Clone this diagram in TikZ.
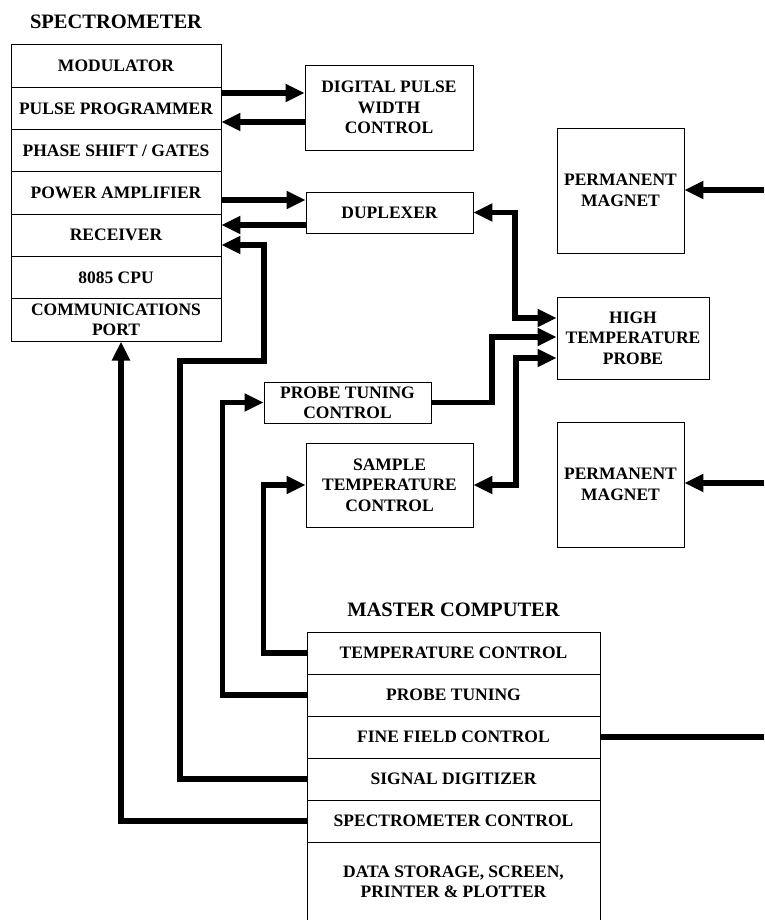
\documentclass[tikz,border=0pt]{standalone}
\usepackage{fontspec}
\setmainfont{Liberation Serif}
\usetikzlibrary{arrows.meta,calc}
\begin{document}
\begin{tikzpicture}[x=1pt,y=-1pt,
  box/.style={draw,line width=0.9pt,inner sep=0pt,align=center,font=\bfseries\fontsize{17.5}{20.5}\selectfont},
  scell/.style={box,minimum width=210pt,minimum height=42.3pt},
  mcell/.style={box,minimum width=293pt,minimum height=42pt,font=\bfseries\fontsize{17.5}{20}\selectfont},
  head/.style={inner sep=0pt,font=\bfseries\fontsize{20.5}{24}\selectfont},
  tipx/.tip={Triangle[length=19pt,width=17pt]},
  arr/.style={line width=5.5pt,-tipx},
  darr/.style={line width=5.5pt,tipx-tipx},
  wire/.style={line width=5.5pt}]
\useasboundingbox (0,0) rectangle (764,920);
\coordinate (edgeR) at (764,0);
% spectrometer
\node[head] (spech) at (116,22) {SPECTROMETER};
\node[scell] (mod) at (116,66.1) {MODULATOR};
\node[scell] (pp) at (116,108.4) {PULSE PROGRAMMER};
\node[scell] (ps) at (116,150.7) {PHASE SHIFT / GATES};
\node[scell] (pa) at (116,193.0) {POWER AMPLIFIER};
\node[scell] (rx) at (116,235.3) {RECEIVER};
\node[scell] (cpu) at (116,277.6) {8085 CPU};
\node[scell,font=\bfseries\fontsize{17.5}{19.5}\selectfont] (comm) at (116,319.9) {COMMUNICATIONS\\PORT};
% middle boxes
\node[box,minimum width=168pt,minimum height=85pt] (dpwc) at (389,107.5) {DIGITAL PULSE\\WIDTH\\CONTROL};
\node[box,minimum width=167pt,minimum height=41pt] (dup) at (389.5,212.5) {DUPLEXER};
\node[box,minimum width=167pt,minimum height=41pt,font=\bfseries\fontsize{17.5}{20}\selectfont] (ptc) at (347.5,402.5) {PROBE TUNING\\CONTROL};
\node[box,minimum width=167pt,minimum height=84pt] (stc) at (389.5,485) {SAMPLE\\TEMPERATURE\\CONTROL};
% right boxes
\node[box,minimum width=127pt,minimum height=125pt] (pm1) at (620.5,190.5) {PERMANENT\\MAGNET};
\node[box,minimum width=152pt,minimum height=82pt] (htp) at (633,338) {HIGH\\TEMPERATURE\\PROBE};
\node[box,minimum width=127pt,minimum height=125pt] (pm2) at (620.5,484.5) {PERMANENT\\MAGNET};
% master computer
\node[head] (mch) at (453.5,610) {MASTER COMPUTER};
\node[mcell] (tc) at (453.5,653) {TEMPERATURE CONTROL};
\node[mcell] (pt) at (453.5,695) {PROBE TUNING};
\node[mcell] (ff) at (453.5,737) {FINE FIELD CONTROL};
\node[mcell] (sd) at (453.5,779) {SIGNAL DIGITIZER};
\node[mcell] (sc) at (453.5,821) {SPECTROMETER CONTROL};
\node[mcell,minimum height=80pt] (ds) at (453.5,882) {DATA STORAGE, SCREEN,\\PRINTER \& PLOTTER};
% connectors
\draw[arr] (pp.east |- 0,93) -- (dpwc.west |- 0,93);
\draw[arr] (dpwc.west |- 0,122) -- (pp.east |- 0,122);
\draw[arr] (pa.east |- 0,200) -- (dup.west |- 0,200);
\draw[arr] (dup.west |- 0,225) -- (rx.east |- 0,225);
\draw[arr] (sd.west) -| (180,361) -| (264,245) -- (rx.east |- 0,245);
\draw[arr] (sc.west) -| (comm.south -| 121,0);
\draw[arr] (pt.west) -| ($(ptc.west)+(-41,0)$) -- (ptc.west);
\draw[arr] (tc.west) -| ($(stc.west)+(-42,0)$) -- (stc.west);
\draw[wire] (ff.east) -- (ff.east -| edgeR);
\draw[arr] (edgeR |- 0,190) -- (pm1.east |- 0,190);
\draw[arr] (edgeR |- 0,483) -- (pm2.east |- 0,483);
\draw[darr] (dup.east) -| (515,318) -- (htp.west |- 0,318);
\draw[arr] (ptc.east) -| (492,337) -- (htp.west |- 0,337);
\draw[darr] (stc.east) -| (516,358) -- (htp.west |- 0,358);
\end{tikzpicture}
\end{document}
